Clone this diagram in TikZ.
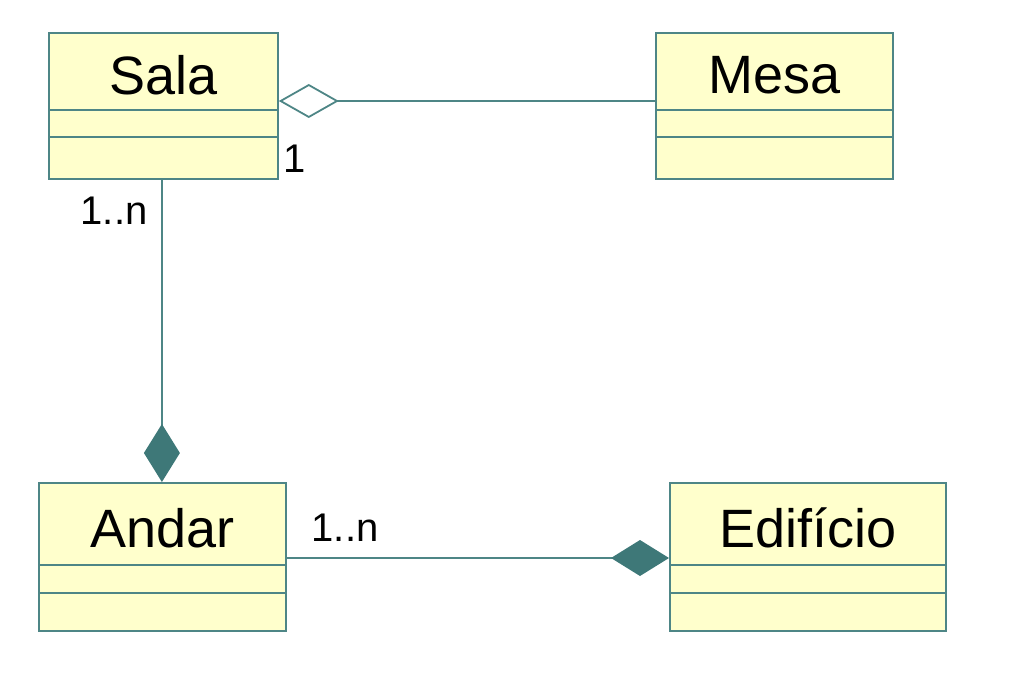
\documentclass[tikz,border=0pt]{standalone}
\usepackage{fontspec}
\setmainfont{Liberation Sans}
\usetikzlibrary{arrows.meta,calc}
\definecolor{umlline}{HTML}{4E8686}
\definecolor{umlfill}{HTML}{FFFFCC}
\definecolor{umldia}{HTML}{3E7878}
\tikzset{
  classbox/.style={draw=umlline, line width=1.8pt, fill=umlfill, inner sep=0pt, anchor=north west},
  title/.style={font=\fontsize{54}{60}\selectfont, inner sep=0pt},
  mult/.style={font=\fontsize{40}{44}\selectfont, inner sep=0pt},
  conn/.style={draw=umlline, line width=1.8pt},
  aggtip/.tip={Diamond[open, fill=white, length=60pt, width=34pt]},
  comptip/.tip={Diamond[fill=umldia, color=umldia, length=58pt, width=36pt]}
}
\begin{document}
\begin{tikzpicture}[x=1pt,y=-1pt]
\useasboundingbox (0,0) rectangle (1024,674);
% class boxes
\node[classbox, minimum width=229pt, minimum height=146pt] (sala) at (48,32) {};
\node[classbox, minimum width=237pt, minimum height=146pt] (mesa) at (655,32) {};
\node[classbox, minimum width=247pt, minimum height=148pt] (andar) at (38,482) {};
\node[classbox, minimum width=276pt, minimum height=148pt] (edif) at (669,482) {};
% compartments
\foreach \b/\a/\c in {sala/78/105, mesa/78/105, andar/83/111, edif/83/111}{
  \draw[umlline, line width=1.8pt] ($(\b.north west)+(0,\a)$) -- ($(\b.north east)+(0,\a)$);
  \draw[umlline, line width=1.8pt] ($(\b.north west)+(0,\c)$) -- ($(\b.north east)+(0,\c)$);
}
% titles
\node[title] (tsala) at ($(sala.north)+(0,43)$) {Sala};
\node[title] (tmesa) at ($(mesa.north)+(0,43)$) {Mesa};
\node[title] (tandar) at ($(andar.north)+(0,46)$) {Andar};
\node[title] (tedif) at ($(edif.north)+(0,46)$) {Edifício};
% connectors
\coordinate (s1) at ($(sala.north east)+(0,69)$);
\coordinate (m1) at ($(mesa.north west)+(0,69)$);
\draw[conn, {aggtip}-] (s1) -- (m1);
\coordinate (s2) at ($(sala.south)+(-1.5,0)$);
\coordinate (a2) at ($(andar.north)+(-0.5,0)$);
\draw[conn, -{comptip}] (s2) -- (a2);
\coordinate (a3) at ($(andar.north east)+(0,76)$);
\coordinate (e3) at ($(edif.north west)+(0,76)$);
\draw[conn, -{comptip}] (a3) -- (e3);
% multiplicities
\node[mult, anchor=west] (m1lbl) at (283,159) {1};
\node[mult] (m2lbl) at (114,211) {1..n};
\node[mult] (m3lbl) at (345,528) {1..n};
\end{tikzpicture}
\end{document}
